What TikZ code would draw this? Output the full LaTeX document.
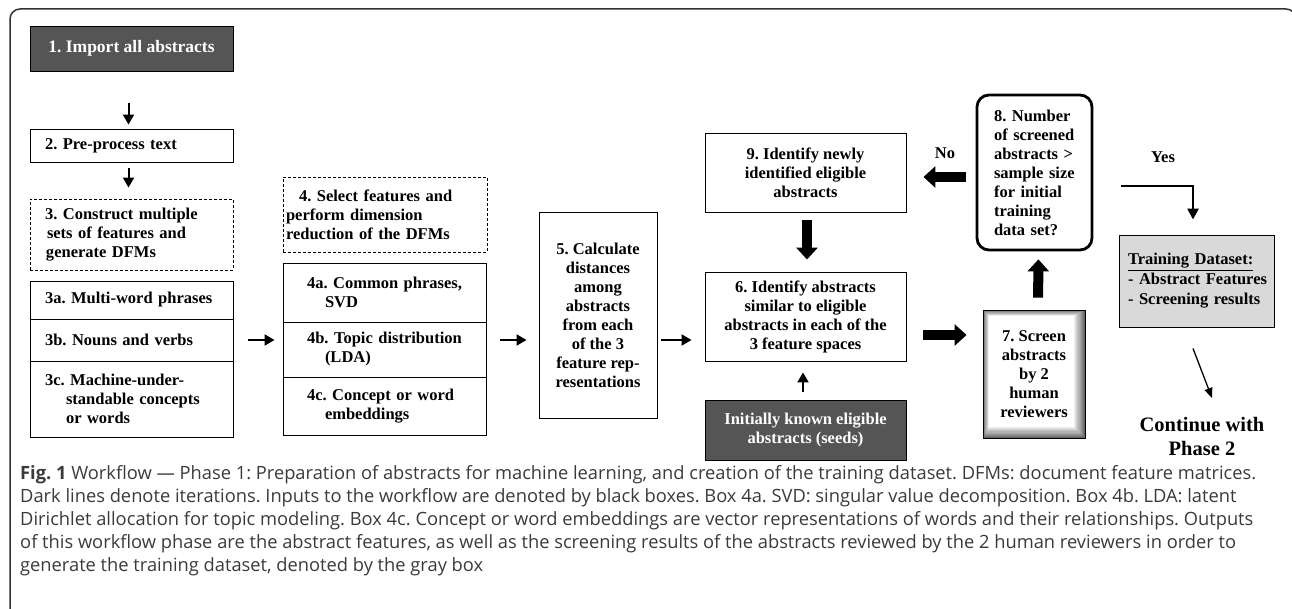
\documentclass[tikz,border=0pt]{standalone}
\usepackage{fontspec}
\setmainfont{Liberation Serif}
\newfontfamily\capfont{Open Sans}
\usetikzlibrary{arrows.meta}
\definecolor{dk}{HTML}{555555}
\definecolor{lg}{HTML}{D9D9D9}
\definecolor{capc}{HTML}{3A3A3A}
\definecolor{framec}{HTML}{333333}
\newcommand{\ind}[1]{\hspace*{#1pt}}
\begin{document}
\frenchspacing
\begin{tikzpicture}[x=1pt,y=-1pt,
 bx/.style={draw=black, line width=0.9pt, inner sep=0pt, font=\bfseries\fontsize{16.5}{19}\selectfont},
 cbx/.style={bx, align=center},
 lbx/.style={bx, align=left, inner xsep=3pt},
 dbx/.style={dash pattern=on 3pt off 2pt},
 sarr/.style={line width=2pt, -{Triangle[width=11pt,length=10pt]}},
 barr/.style={line width=10pt, -{Triangle[width=21pt,length=12pt]}},
 lbl/.style={font=\bfseries\fontsize{16.5}{19}\selectfont, inner sep=0pt},
 capl/.style={anchor=base west, inner sep=0pt, font=\capfont\fontsize{18.3}{23}\selectfont, text=capc},
]
\useasboundingbox (0,0) rectangle (1292,609);
\clip (0,0) rectangle (1292,609);
% outer frame
\draw[framec, line width=1.5pt, rounded corners=10pt] (10,640) -- (10,9) -- (1296,9) -- (1296,640);

% column 1
\node[cbx, fill=dk, text=white, minimum width=203pt, minimum height=45pt, font=\bfseries\fontsize{17.5}{20}\selectfont] (b1) at (131.5,48.5) {1. Import all abstracts};
\node[lbx, text width=197pt, minimum height=33pt] (b2) at (131.5,145.5) {\ind{12}2. Pre-process text};
\node[lbx, dbx, text width=197pt, minimum height=71pt] (b3) at (131.5,234.5) {\ind{12}3. Construct multiple\\\ind{14}sets of features and\\\ind{13}generate DFMs};
\node[lbx, text width=197pt, minimum height=38pt] (b3a) at (131.5,300) {\ind{12}3a. Multi-word phrases};
\node[lbx, text width=197pt, minimum height=42pt] (b3b) at (131.5,340) {\ind{12}3b. Nouns and verbs};
\node[lbx, text width=197pt, minimum height=76pt] (b3c) at (131.5,399) {\ind{12}3c. Machine-under-\\\ind{33}standable concepts\\\ind{33}or words};

% column 2
\node[lbx, dbx, text width=198pt, minimum height=75pt] (b4) at (385,214.5) {\ind{13}4. Select features and\\perform dimension\\reduction of the DFMs};
\node[lbx, text width=197pt, minimum height=59pt] (b4a) at (384.5,292.5) {\ind{21}4a. Common phrases,\\\ind{39}SVD};
\node[lbx, text width=197pt, minimum height=55pt] (b4b) at (384.5,349.5) {\ind{21}4b. Topic distribution\\\ind{39}(LDA)};
\node[lbx, text width=197pt, minimum height=58pt] (b4c) at (384.5,406) {\ind{21}4c. Concept or word\\\ind{39}embeddings};

% column 3
\node[cbx, minimum width=118pt, minimum height=206pt] (b5) at (598,315) {5. Calculate\\distances\\among\\abstracts\\from each\\of the 3\\feature rep-\\resentations};

% column 4
\node[cbx, minimum width=201pt, minimum height=79pt] (b9) at (805.5,172.5) {9. Identify newly\\identified eligible\\abstracts};
\node[cbx, minimum width=201pt, minimum height=89pt] (b6) at (805.5,316.5) {6. Identify abstracts\\similar to eligible\\abstracts in each of the\\3 feature spaces};
\node[cbx, fill=dk, text=white, minimum width=201pt, minimum height=60pt] (seeds) at (805.5,430) {Initially known eligible\\abstracts (seeds)};

% column 5
\node[lbx, line width=2.8pt, rounded corners=12pt, text width=109pt, minimum height=155pt] (b8) at (1034.5,172.5) {\ind{14}8. Number\\\ind{14}of screened\\\ind{14}abstracts >\\\ind{14}sample size\\\ind{14}for initial\\\ind{14}training\\\ind{14}data set?};
\foreach \i in {0,...,10}{
  \pgfmathsetmacro{\gv}{max(0,60-6*\i)}
  \fill[black!\gv] (983+0.6*\i,310+0.6*\i) rectangle (1085-1.1*\i,438-1.1*\i);
}
\node[cbx, minimum width=102pt, minimum height=128pt] (b7) at (1034,374) {7. Screen\\abstracts\\by 2\\human\\reviewers};

% column 6
\node[lbx, fill=lg, text width=149pt, minimum height=92pt, font=\bfseries\fontsize{16.5}{20}\selectfont] (tr) at (1196.5,281) {\ind{6}\underline{Training Dataset:}\\\ind{6}- Abstract Features\\\ind{6}- Screening results\\[2pt]};
\node[font=\bfseries\fontsize{20.5}{24}\selectfont, align=center, inner sep=0pt] (cont) at (1202,436) {Continue with\\Phase 2};

% labels
\node[lbl] (no) at (945,153) {No};
\node[lbl] (yes) at (1163,157) {Yes};

% small arrows
\draw[sarr, shorten <=32pt, shorten >=4pt] ([xshift=-3pt]b1.south) -- ([xshift=-3pt]b2.north);
\draw[sarr, shorten <=6pt, shorten >=11pt] ([xshift=-3pt]b2.south) -- ([xshift=-3pt]b3.north);
\draw[sarr, shorten <=15pt, shorten >=8pt] (b3b.east) -- (b4b.west |- b3b.east);
\draw[sarr, shorten <=14pt, shorten >=12pt] (b4b.east |- b3b.east) -- (b5.west |- b3b.east);
\draw[sarr, shorten <=4pt, shorten >=13pt] (b5.east |- b3b.east) -- (b6.west |- b3b.east);
\draw[sarr, shorten <=8pt, shorten >=11pt] ([xshift=-2.5pt]seeds.north) -- ([xshift=-2.5pt]b6.south);

% thick arrows
\coordinate (s67) at ([yshift=-18.5pt]b6.east);
\draw[barr, shorten <=17pt, shorten >=16pt] (s67) -- (b7.west |- s67);
\coordinate (s89) at ([yshift=-4.5pt]b8.west);
\draw[barr, shorten <=10pt, shorten >=17pt] (s89) -- (b9.east |- s89);
\draw[barr, shorten <=8pt, shorten >=12pt] ([xshift=1.5pt]b9.south) -- ([xshift=1.5pt]b6.north);
\draw[barr, shorten <=12pt, shorten >=8pt] ([xshift=4pt]b7.north) -- ([xshift=4pt]b8.south);

% yes path
\coordinate (ys) at ([xshift=28pt,yshift=-13.5pt]b8.east);
\draw[line width=2.5pt, -{Triangle[width=11pt,length=11pt]}, shorten >=15pt] (ys) -| ([xshift=-3.5pt]tr.north);
% to phase 2
\coordinate (ta) at ([xshift=-3.5pt,yshift=-21pt]tr.south);
\coordinate (tb) at ([xshift=10pt,yshift=38pt]cont.center);
\draw[line width=1.3pt, -{Triangle[width=8pt,length=10pt]}] (ta) -- (tb);

% caption
\node[capl] (cap1) at (20,479) {\textbf{Fig. 1} Workflow — Phase 1: Preparation of abstracts for machine learning, and creation of the training dataset. DFMs: document feature matrices.};
\node[capl] (cap2) at (20,502) {Dark lines denote iterations. Inputs to the workflow are denoted by black boxes. Box 4a. SVD: singular value decomposition. Box 4b. LDA: latent};
\node[capl] (cap3) at (20,525) {Dirichlet allocation for topic modeling. Box 4c. Concept or word embeddings are vector representations of words and their relationships. Outputs};
\node[capl] (cap4) at (20,548) {of this workflow phase are the abstract features, as well as the screening results of the abstracts reviewed by the 2 human reviewers in order to};
\node[capl] (cap5) at (20,571) {generate the training dataset, denoted by the gray box};
\end{tikzpicture}
\end{document}
